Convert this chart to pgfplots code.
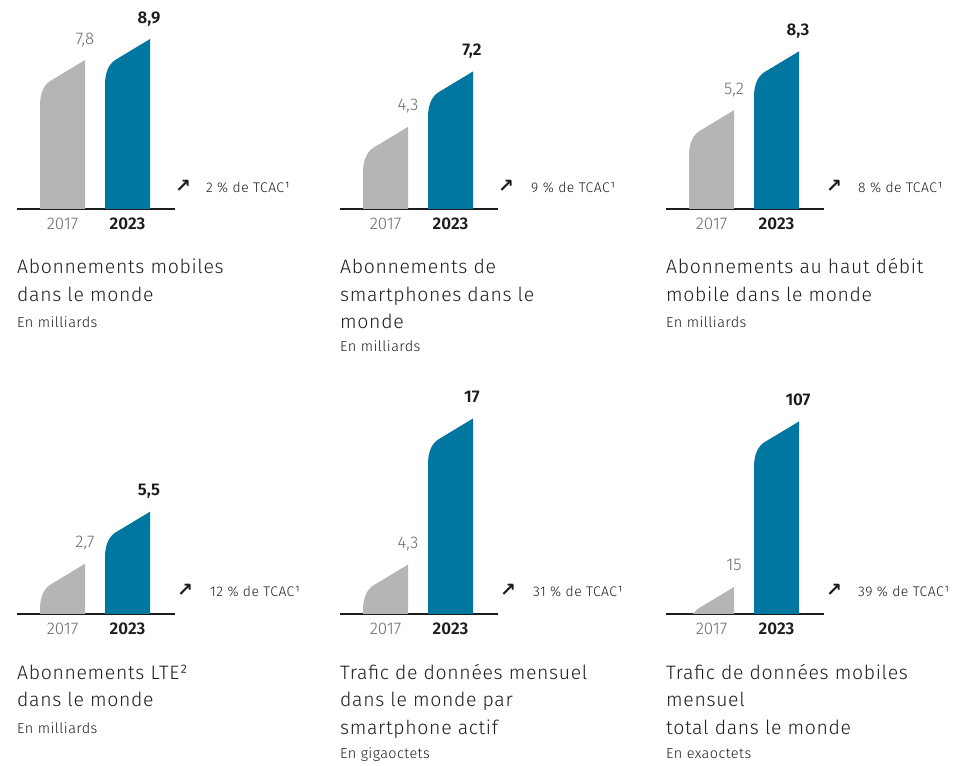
\documentclass[border=0pt]{standalone}
\usepackage{pgfplots}
\pgfplotsset{compat=1.18}
\usepackage{fontspec}
\setmainfont{Fira Sans Light}[BoldFont={Fira Sans SemiBold}]
\newfontfamily\arrowfont{DejaVu Sans}

\definecolor{barblue}{RGB}{0,119,160}
\definecolor{bargrey}{RGB}{180,181,180}
\definecolor{labgrey}{RGB}{105,105,105}
\definecolor{ink}{RGB}{28,28,28}

% bar with a rising, rounded top; #1 x, #2 value, #3 px per unit, #4 colour
\newcommand\curvebar[4]{%
  \pgfmathsetmacro\xl{#1-0.34615}%
  \pgfmathsetmacro\xr{#1+0.34615}%
  \gdef\pts{}%
  \foreach \dx/\dy in {0/46,0.11/42.3,0.44/38.9,0.99/35.8,1.76/32.8,2.75/30.2,3.96/27.7,5.39/25.6,7.04/23.6,8.91/21.9,11/20.5,45/0}{%
    \pgfmathsetmacro\px{\xl+\dx/65}%
    \pgfmathsetmacro\py{max(0,#2-\dy/#3)}%
    \xdef\pts{\pts(\px,\py)}%
  }%
  \edef\doplot{\noexpand\addplot[fill=#4,draw=none] coordinates {(\xl,0)\pts(\xr,0)};}%
  \doplot
}
% value above the right edge of a bar; #1 x, #2 value, #3 style
\newcommand\barlabel[3]{%
  \pgfmathsetmacro\xr{#1+0.34615}%
  \edef\doplot{\noexpand\addplot[draw=none,mark=none,#3] coordinates {(\xr,#2)};}%
  \doplot
}

\pgfplotsset{
  panel/.style={
    anchor=south west, x=65bp, y=#1bp,
    xmin=-0.7, xmax=1.7308, ymin=0,
    clip=false,
    axis x line*=bottom, axis y line=none,
    x axis line style={ink, line width=1.2bp},
    xtick={0,1}, ytick=\empty,
    xticklabels={{\color{labgrey}2017},{\bfseries\color{ink}2023}},
    xtick style={draw=none},
    xticklabel style={anchor=base, yshift=-21bp, font=\fontsize{17}{20}\selectfont},
  },
  oldval/.style={point meta=y,
    nodes near coords={\pgfmathprintnumber[assume math mode=true,use comma,fixed,precision=1]{\pgfplotspointmeta}},
    every node near coord/.append style={anchor=base, yshift=16bp, text=labgrey, font=\fontsize{17}{20}\selectfont}},
  newval/.style={point meta=y,
    nodes near coords={\pgfmathprintnumber[assume math mode=true,use comma,fixed,precision=1]{\pgfplotspointmeta}},
    every node near coord/.append style={anchor=base, yshift=16bp, xshift=-1bp, text=ink, font=\fontsize{17}{20}\selectfont\bfseries}},
}

\newcommand\titleline[3]{\node[anchor=base west, inner sep=0, text=ink, font=\fontsize{19.5}{22}\selectfont\addfontfeature{LetterSpace=3.5}] at (#1bp,766bp-#2bp) {#3};}
\newcommand\subline[3]{\node[anchor=base west, inner sep=0, text=ink, font=\fontsize{14.5}{17}\selectfont\addfontfeature{LetterSpace=3}] at (#1bp,766bp-#2bp) {#3};}
\newcommand\cagr[4]{%
  \node[anchor=base, inner sep=0, text=ink, font=\arrowfont\bfseries\fontsize{19}{21}\selectfont] at (#1bp,766bp-#3bp) {↗};
  \node[anchor=base west, inner sep=0, text=ink, font=\fontsize{14}{16}\selectfont\addfontfeature{LetterSpace=3.5}] at (#2bp,766bp-#3bp) {#4};}

\begin{document}
\begin{tikzpicture}
\useasboundingbox (0,0) rectangle (964bp,766bp);

% top row
\begin{axis}[panel=19.1, ymax=9, at={(17bp,557bp)}]
  \curvebar{0}{7.8}{19.1}{bargrey}
  \curvebar{1}{8.9}{19.1}{barblue}
  \barlabel{0}{7.8}{oldval}
  \barlabel{1}{8.9}{newval}
\end{axis}
\begin{axis}[panel=19.1, ymax=9, at={(340bp,557bp)}]
  \curvebar{0}{4.3}{19.1}{bargrey}
  \curvebar{1}{7.2}{19.1}{barblue}
  \barlabel{0}{4.3}{oldval}
  \barlabel{1}{7.2}{newval}
\end{axis}
\begin{axis}[panel=19.0, ymax=9, at={(666bp,557bp)}]
  \curvebar{0}{5.2}{19.0}{bargrey}
  \curvebar{1}{8.3}{19.0}{barblue}
  \barlabel{0}{5.2}{oldval}
  \barlabel{1}{8.3}{newval}
\end{axis}

% bottom row
\begin{axis}[panel=18.6, ymax=6, at={(17bp,152bp)}]
  \curvebar{0}{2.7}{18.6}{bargrey}
  \curvebar{1}{5.5}{18.6}{barblue}
  \barlabel{0}{2.7}{oldval}
  \barlabel{1}{5.5}{newval}
\end{axis}
\begin{axis}[panel=11.5, ymax=17, at={(340bp,152bp)}]
  \curvebar{0}{4.3}{11.5}{bargrey}
  \curvebar{1}{17}{11.5}{barblue}
  \barlabel{0}{4.3}{oldval}
  \barlabel{1}{17}{newval}
\end{axis}
\begin{axis}[panel=1.8, ymax=107, at={(666bp,152bp)}]
  \curvebar{0}{15}{1.8}{bargrey}
  \curvebar{1}{107}{1.8}{barblue}
  \barlabel{0}{15}{oldval}
  \barlabel{1}{107}{newval}
\end{axis}

% growth notes
\cagr{183}{206}{193}{2 \% de TCAC¹}
\cagr{506}{531}{193}{9 \% de TCAC¹}
\cagr{834}{858}{193}{8 \% de TCAC¹}
\cagr{185}{210}{597}{12 \% de TCAC¹}
\cagr{508}{533}{597}{31 \% de TCAC¹}
\cagr{834}{858}{597}{39 \% de TCAC¹}

% titles
\titleline{17}{274}{Abonnements mobiles}
\titleline{17}{302}{dans le monde}
\subline{17}{328}{En milliards}

\titleline{340}{274}{Abonnements de}
\titleline{340}{302}{smartphones dans le}
\titleline{340}{329}{monde}
\subline{340}{352}{En milliards}

\titleline{666}{274}{Abonnements au haut débit}
\titleline{666}{302}{mobile dans le monde}
\subline{666}{328}{En milliards}

\titleline{17}{680}{Abonnements LTE²}
\titleline{17}{707}{dans le monde}
\subline{17}{733}{En milliards}

\titleline{340}{680}{Trafic de données mensuel}
\titleline{340}{707}{dans le monde par}
\titleline{340}{734}{smartphone actif}
\subline{340}{758}{En gigaoctets}

\titleline{666}{680}{Trafic de données mobiles}
\titleline{666}{707}{mensuel}
\titleline{666}{734}{total dans le monde}
\subline{666}{758}{En exaoctets}
\end{tikzpicture}
\end{document}
